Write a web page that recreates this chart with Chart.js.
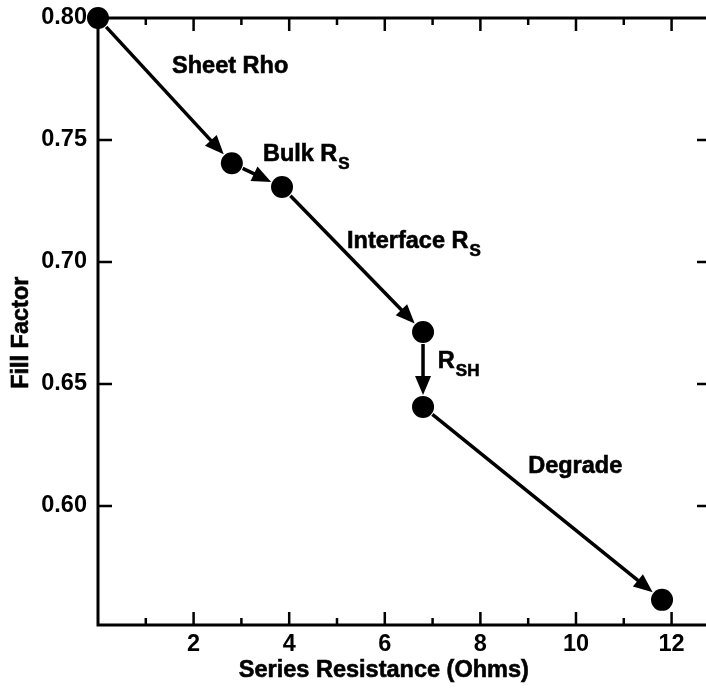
<!DOCTYPE html>
<html>
<head>
<meta charset="utf-8">
<script src="https://cdn.jsdelivr.net/npm/chart.js@4.4.1/dist/chart.umd.min.js"></script>
<style>
  html, body { margin: 0; padding: 0; background: #fff; overflow: hidden; }
  #wrap { position: relative; width: 706px; height: 688px; }
</style>
</head>
<body>
<div id="wrap"><canvas id="c" width="706" height="688"></canvas></div>
<script>
// Series resistance (Ohms) and fill factor after each loss mechanism
const resistance = [0, 2.8, 3.85, 6.8, 6.8, 11.8];
const fillFactor = [0.800, 0.7405, 0.7307, 0.6713, 0.6406, 0.5615];

// Tick labels
const xTickLabels = [2, 4, 6, 8, 10, 12];
const yTickLabels = [0.60, 0.65, 0.70, 0.75, 0.80];

// Step names (main text + subscript)
const stepNames = ['Sheet Rho', 'Bulk R', 'Interface R', 'R', 'Degrade'];
const stepSubs  = ['', 'S', 'S', 'SH', ''];

// Where each step name sits, in axis units (left edge, vertical middle)
const stepLabelAnchors = [
  { x: 1.55, y: 0.7803 },
  { x: 3.45, y: 0.7439 },
  { x: 5.21, y: 0.7082 },
  { x: 7.11, y: 0.6590 },
  { x: 9.00, y: 0.6160 }
];

const FONT = "'Liberation Sans', Arial, Helvetica, sans-serif";
const INK = '#000';
const POINT_R = 11;
const TEXT_PX = 23.5;
const SUB_PX = 17;

function arrowSegment(ctx, x0, y0, x1, y1, startGap, endGap) {
  const dx = x1 - x0, dy = y1 - y0;
  const len = Math.hypot(dx, dy);
  const ux = dx / len, uy = dy / len;
  const sx = x0 + ux * startGap, sy = y0 + uy * startGap;
  const tx = x1 - ux * endGap, ty = y1 - uy * endGap;
  const headLen = 19, headHalf = 8;
  const bx = tx - ux * headLen, by = ty - uy * headLen;
  ctx.beginPath();
  ctx.moveTo(sx, sy);
  ctx.lineTo(bx + ux * 2, by + uy * 2);
  ctx.stroke();
  ctx.beginPath();
  ctx.moveTo(tx, ty);
  ctx.lineTo(bx - uy * headHalf, by + ux * headHalf);
  ctx.lineTo(bx + uy * headHalf, by - ux * headHalf);
  ctx.closePath();
  ctx.fill();
}

function boldText(ctx, text, x, y) {
  ctx.fillText(text, x, y);
  ctx.strokeText(text, x, y);
}

const framePlugin = {
  id: 'frame',
  beforeDatasetsDraw(chart) {
    const { ctx, chartArea: a, scales: { x, y } } = chart;
    ctx.save();
    ctx.strokeStyle = INK;
    ctx.lineCap = 'butt';
    // axis lines: left, bottom, top
    ctx.lineWidth = 3;
    ctx.beginPath();
    ctx.moveTo(a.left, a.top - 1);
    ctx.lineTo(a.left, a.bottom + 1.5);
    ctx.moveTo(a.left - 1.5, a.bottom);
    ctx.lineTo(a.right, a.bottom);
    ctx.moveTo(a.left - 1.5, a.top);
    ctx.lineTo(a.right, a.top);
    ctx.stroke();

    // inward ticks on top and bottom (every ohm, longer on even values)
    ctx.lineWidth = 2.5;
    ctx.beginPath();
    for (let v = 1; v <= 12; v++) {
      const px = x.getPixelForValue(v);
      const len = v % 2 === 0 ? 13 : 7;
      ctx.moveTo(px, a.bottom);
      ctx.lineTo(px, a.bottom - len);
      ctx.moveTo(px, a.top);
      ctx.lineTo(px, a.top + len);
    }
    // inward ticks on left and right
    yTickLabels.forEach(v => {
      if (v >= 0.799) return;
      const py = y.getPixelForValue(v);
      ctx.moveTo(a.left, py);
      ctx.lineTo(a.left + 14, py);
      ctx.moveTo(a.right, py);
      ctx.lineTo(a.right - 9, py);
    });
    ctx.stroke();

    // arrows between successive states
    ctx.lineWidth = 3.5;
    ctx.fillStyle = INK;
    const pts = chart.getDatasetMeta(0).data;
    for (let i = 0; i < pts.length - 1; i++) {
      arrowSegment(ctx, pts[i].x, pts[i].y, pts[i + 1].x, pts[i + 1].y,
        POINT_R + 1, POINT_R + 1);
    }
    ctx.restore();
  },
  afterDraw(chart) {
    const { ctx, scales: { x, y } } = chart;
    ctx.save();
    ctx.fillStyle = INK;
    ctx.strokeStyle = INK;
    ctx.lineWidth = 0.6;
    ctx.textBaseline = 'middle';

    // step names with subscripts
    stepNames.forEach((name, i) => {
      const px = x.getPixelForValue(stepLabelAnchors[i].x);
      const py = y.getPixelForValue(stepLabelAnchors[i].y);
      ctx.font = `bold ${TEXT_PX}px ${FONT}`;
      ctx.textAlign = 'left';
      boldText(ctx, name, px, py);
      if (stepSubs[i]) {
        const w = ctx.measureText(name).width;
        ctx.font = `bold ${SUB_PX}px ${FONT}`;
        boldText(ctx, stepSubs[i], px + w + 1, py + 9);
      }
    });

    // axis titles
    ctx.font = `bold ${TEXT_PX}px ${FONT}`;
    ctx.textAlign = 'center';
    boldText(ctx, 'Series Resistance (Ohms)', x.getPixelForValue(5.98), 671);
    ctx.save();
    ctx.translate(22, y.getPixelForValue(0.671));
    ctx.rotate(-Math.PI / 2);
    boldText(ctx, 'Fill Factor', 0, 0);
    ctx.restore();
    ctx.restore();
  }
};

new Chart(document.getElementById('c'), {
  type: 'scatter',
  data: {
    datasets: [{
      data: resistance.map((r, i) => ({ x: r, y: fillFactor[i] })),
      pointRadius: POINT_R,
      pointHoverRadius: POINT_R,
      pointBackgroundColor: INK,
      pointBorderWidth: 0,
      showLine: false,
      clip: false
    }]
  },
  options: {
    responsive: false,
    animation: false,
    devicePixelRatio: 1,
    layout: { autoPadding: false, padding: { top: 18, left: 0, right: 0, bottom: 0 } },
    plugins: { legend: { display: false }, tooltip: { enabled: false } },
    scales: {
      x: {
        type: 'linear',
        min: 0,
        max: 12.72,
        afterBuildTicks: s => { s.ticks = xTickLabels.map(v => ({ value: v })); },
        afterFit: s => { s.height = 63; s.paddingLeft = 0; s.paddingRight = 0; },
        grid: { display: false, drawTicks: false },
        border: { display: false },
        ticks: {
          padding: 5, color: INK, maxRotation: 0, autoSkip: false,
          font: { family: FONT, size: TEXT_PX, weight: 'bold' },
          callback: v => String(v)
        }
      },
      y: {
        type: 'linear',
        min: 0.5512,
        max: 0.80,
        afterBuildTicks: s => { s.ticks = yTickLabels.map(v => ({ value: v })); },
        afterFit: s => { s.width = 98; s.paddingTop = 0; s.paddingBottom = 0; },
        grid: { display: false, drawTicks: false },
        border: { display: false },
        ticks: {
          padding: 11, color: INK, autoSkip: false,
          font: { family: FONT, size: TEXT_PX, weight: 'bold' },
          callback: v => v.toFixed(2)
        }
      }
    }
  },
  plugins: [framePlugin]
});
</script>
</body>
</html>
